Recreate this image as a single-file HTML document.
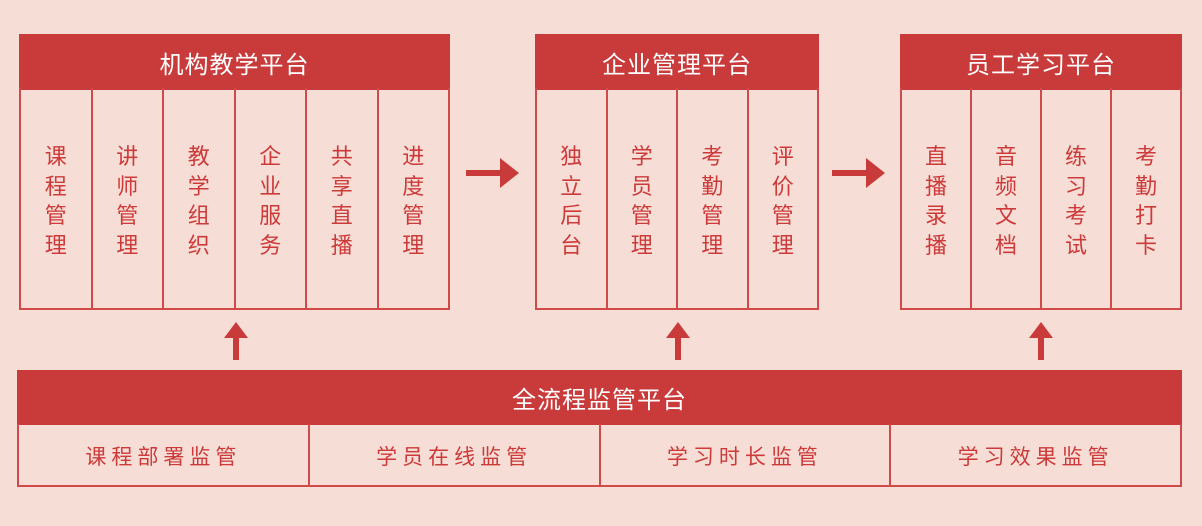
<!DOCTYPE html>
<html><head><meta charset="utf-8"><style>
body{margin:0;width:1202px;height:526px;background:#f6ddd5;position:relative;overflow:hidden;font-family:"Liberation Sans","Noto Sans CJK SC",sans-serif}
.h{position:absolute;background:#c93a3a;color:#fff;font-size:24px;display:flex;align-items:center;justify-content:center;letter-spacing:1px}
.b{position:absolute;border:2px solid #cf4a48;box-sizing:border-box;display:flex}
.b>div{flex:1;border-right:2px solid #cf4a48;color:#cc3a3a;font-size:22px;display:flex;justify-content:center;padding-top:54px;box-sizing:border-box}
.b>div:last-child{border-right:none}
.v{width:22px;line-height:29.5px;text-align:center;word-break:break-all}
.bb>div{padding-top:2px;align-items:center;font-size:21px;letter-spacing:5px}
</style></head><body>
<div class="h" style="left:19px;top:34px;width:431px;height:56px">机构教学平台</div>
<div class="b" style="left:19px;top:88px;width:431px;height:222px;border-top:none">
<div><span class="v">课程管理</span></div><div><span class="v">讲师管理</span></div><div><span class="v">教学组织</span></div><div><span class="v">企业服务</span></div><div><span class="v">共享直播</span></div><div><span class="v">进度管理</span></div></div>

<div class="h" style="left:535px;top:34px;width:284px;height:56px">企业管理平台</div>
<div class="b" style="left:535px;top:88px;width:284px;height:222px;border-top:none">
<div><span class="v">独立后台</span></div><div><span class="v">学员管理</span></div><div><span class="v">考勤管理</span></div><div><span class="v">评价管理</span></div></div>

<div class="h" style="left:900px;top:34px;width:282px;height:56px">员工学习平台</div>
<div class="b" style="left:900px;top:88px;width:282px;height:222px;border-top:none">
<div><span class="v">直播录播</span></div><div><span class="v">音频文档</span></div><div><span class="v">练习考试</span></div><div><span class="v">考勤打卡</span></div></div>

<div class="h" style="left:17px;top:370px;width:1165px;height:55px">全流程监管平台</div>
<div class="b bb" style="left:17px;top:424px;width:1165px;height:63px;border-top:none">
<div>课程部署监管</div><div>学员在线监管</div><div>学习时长监管</div><div>学习效果监管</div></div>

<svg style="position:absolute;left:0;top:0" width="1202" height="526">
<g fill="#c93a3a" stroke="none">
<rect x="466" y="170" width="36" height="6"/><polygon points="500,158 519,173 500,188"/>
<rect x="832" y="170" width="36" height="6"/><polygon points="866,158 885,173 866,188"/>
<rect x="233" y="334" width="6" height="26"/><polygon points="224,338 236,322 248,338"/>
<rect x="675" y="334" width="6" height="26"/><polygon points="666,338 678,322 690,338"/>
<rect x="1038" y="334" width="6" height="26"/><polygon points="1029,338 1041,322 1053,338"/>
</g></svg>
</body></html>
